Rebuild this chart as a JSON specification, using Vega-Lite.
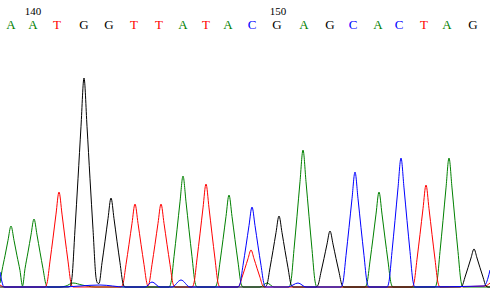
{
  "$schema": "https://vega.github.io/schema/vega-lite/v6.json",
  "width": 490, "height": 293,
  "autosize": {"type": "fit", "contains": "padding"},
  "padding": 0,
  "background": "white",
  "config": {"view": {"stroke": null}},
  "datasets": {
    "tr": [
      {"b":"A","x":0,"y":5},{"b":"A","x":2,"y":17.4},{"b":"A","x":5,"y":32.2},{"b":"A","x":8,"y":47.7},{"b":"A","x":11,"y":62},{"b":"A","x":14,"y":47.7},{"b":"A","x":17,"y":32.2},{"b":"A","x":20,"y":17.4},{"b":"A","x":22.5,"y":2},{"b":"A","x":25,"y":19.3},{"b":"A","x":28,"y":35.9},{"b":"A","x":31,"y":53.1},{"b":"A","x":34,"y":69},{"b":"A","x":37,"y":53.1},{"b":"A","x":40,"y":35.9},{"b":"A","x":43,"y":19.3},{"b":"A","x":46,"y":3.5},{"b":"A","x":48,"y":1},{"b":"A","x":60,"y":1},{"b":"A","x":66,"y":2},{"b":"A","x":73,"y":5},{"b":"A","x":82,"y":3},{"b":"A","x":95,"y":1},{"b":"A","x":150,"y":1},{"b":"A","x":169,"y":1},{"b":"A","x":171,"y":5.6},{"b":"A","x":174,"y":31.4},{"b":"A","x":177,"y":58.2},{"b":"A","x":180,"y":86.2},{"b":"A","x":183,"y":112},{"b":"A","x":186,"y":86.2},{"b":"A","x":189,"y":58.2},{"b":"A","x":192,"y":31.4},{"b":"A","x":195,"y":5.6},{"b":"A","x":197,"y":1},{"b":"A","x":215,"y":1},{"b":"A","x":217,"y":4.7},{"b":"A","x":220,"y":26},{"b":"A","x":223,"y":48.4},{"b":"A","x":226,"y":71.6},{"b":"A","x":229,"y":93},{"b":"A","x":232,"y":71.6},{"b":"A","x":235,"y":48.4},{"b":"A","x":238,"y":26},{"b":"A","x":241,"y":4.7},{"b":"A","x":243,"y":1},{"b":"A","x":260,"y":1},{"b":"A","x":267,"y":5},{"b":"A","x":274,"y":1},{"b":"A","x":289,"y":1},{"b":"A","x":291,"y":6.9},{"b":"A","x":294,"y":38.6},{"b":"A","x":297,"y":71.8},{"b":"A","x":300,"y":106.3},{"b":"A","x":303,"y":138},{"b":"A","x":306,"y":106.3},{"b":"A","x":309,"y":71.8},{"b":"A","x":312,"y":38.6},{"b":"A","x":315,"y":6.9},{"b":"A","x":317,"y":1},{"b":"A","x":365,"y":1},{"b":"A","x":367,"y":4.8},{"b":"A","x":370,"y":26.9},{"b":"A","x":373,"y":49.9},{"b":"A","x":376,"y":73.9},{"b":"A","x":379,"y":96},{"b":"A","x":382,"y":73.9},{"b":"A","x":385,"y":49.9},{"b":"A","x":388,"y":26.9},{"b":"A","x":391,"y":4.8},{"b":"A","x":393,"y":1},{"b":"A","x":435,"y":1},{"b":"A","x":437,"y":6.5},{"b":"A","x":440,"y":36.4},{"b":"A","x":443,"y":67.6},{"b":"A","x":446,"y":100.1},{"b":"A","x":449,"y":130},{"b":"A","x":452,"y":100.1},{"b":"A","x":455,"y":67.6},{"b":"A","x":458,"y":36.4},{"b":"A","x":461,"y":6.5},{"b":"A","x":463,"y":1},{"b":"A","x":490,"y":1},

      {"b":"T","x":0,"y":3},{"b":"T","x":5,"y":1},{"b":"T","x":45,"y":1},{"b":"T","x":47,"y":4.8},{"b":"T","x":50,"y":26.9},{"b":"T","x":53,"y":49.9},{"b":"T","x":56,"y":73.9},{"b":"T","x":59,"y":96},{"b":"T","x":62,"y":73.9},{"b":"T","x":65,"y":49.9},{"b":"T","x":68,"y":26.9},{"b":"T","x":71,"y":4.8},{"b":"T","x":73,"y":1},{"b":"T","x":121,"y":1},{"b":"T","x":123,"y":4.2},{"b":"T","x":126,"y":23.5},{"b":"T","x":129,"y":43.7},{"b":"T","x":132,"y":64.7},{"b":"T","x":135,"y":84},{"b":"T","x":138,"y":64.7},{"b":"T","x":141,"y":43.7},{"b":"T","x":144,"y":23.5},{"b":"T","x":147,"y":4.2},{"b":"T","x":148,"y":2},{"b":"T","x":149,"y":4.2},{"b":"T","x":152,"y":23.5},{"b":"T","x":155,"y":43.7},{"b":"T","x":158,"y":64.7},{"b":"T","x":161,"y":84},{"b":"T","x":164,"y":64.7},{"b":"T","x":167,"y":43.7},{"b":"T","x":170,"y":23.5},{"b":"T","x":173,"y":4.2},{"b":"T","x":175,"y":1},{"b":"T","x":192,"y":1},{"b":"T","x":194,"y":5.2},{"b":"T","x":197,"y":29.1},{"b":"T","x":200,"y":54.1},{"b":"T","x":203,"y":80.1},{"b":"T","x":206,"y":104},{"b":"T","x":209,"y":80.1},{"b":"T","x":212,"y":54.1},{"b":"T","x":215,"y":29.1},{"b":"T","x":218,"y":5.2},{"b":"T","x":220,"y":1},{"b":"T","x":237,"y":1},{"b":"T","x":239,"y":1.9},{"b":"T","x":242,"y":10.6},{"b":"T","x":245,"y":19.8},{"b":"T","x":248,"y":29.3},{"b":"T","x":251,"y":38},{"b":"T","x":254,"y":29.3},{"b":"T","x":257,"y":19.8},{"b":"T","x":260,"y":10.6},{"b":"T","x":263,"y":1.9},{"b":"T","x":265,"y":1},{"b":"T","x":412,"y":1},{"b":"T","x":414,"y":5.2},{"b":"T","x":417,"y":28.8},{"b":"T","x":420,"y":53.6},{"b":"T","x":423,"y":79.3},{"b":"T","x":426,"y":103},{"b":"T","x":429,"y":79.3},{"b":"T","x":432,"y":53.6},{"b":"T","x":435,"y":28.8},{"b":"T","x":438,"y":5.2},{"b":"T","x":440,"y":1},{"b":"T","x":485,"y":2},{"b":"T","x":490,"y":5},

      {"b":"G","x":0,"y":1},{"b":"G","x":68,"y":1},{"b":"G","x":70,"y":1.5},{"b":"G","x":72,"y":10.5},{"b":"G","x":75,"y":58.8},{"b":"G","x":78,"y":109.2},{"b":"G","x":81,"y":161.7},{"b":"G","x":84,"y":210},{"b":"G","x":87,"y":161.7},{"b":"G","x":90,"y":109.2},{"b":"G","x":93,"y":58.8},{"b":"G","x":96,"y":10.5},{"b":"G","x":97.5,"y":5},{"b":"G","x":99,"y":4.5},{"b":"G","x":102,"y":25.2},{"b":"G","x":105,"y":46.8},{"b":"G","x":108,"y":69.3},{"b":"G","x":111,"y":90},{"b":"G","x":114,"y":69.3},{"b":"G","x":117,"y":46.8},{"b":"G","x":120,"y":25.2},{"b":"G","x":123,"y":4.5},{"b":"G","x":125,"y":1},{"b":"G","x":265,"y":1},{"b":"G","x":267,"y":3.6},{"b":"G","x":270,"y":20.2},{"b":"G","x":273,"y":37.4},{"b":"G","x":276,"y":55.4},{"b":"G","x":279,"y":72},{"b":"G","x":282,"y":55.4},{"b":"G","x":285,"y":37.4},{"b":"G","x":288,"y":20.2},{"b":"G","x":291,"y":3.6},{"b":"G","x":293,"y":1},{"b":"G","x":316,"y":1},{"b":"G","x":318,"y":2.9},{"b":"G","x":321,"y":16},{"b":"G","x":324,"y":29.6},{"b":"G","x":327,"y":43.9},{"b":"G","x":330,"y":57},{"b":"G","x":333,"y":43.9},{"b":"G","x":336,"y":29.6},{"b":"G","x":339,"y":16},{"b":"G","x":342,"y":2.9},{"b":"G","x":344,"y":1},{"b":"G","x":460,"y":1},{"b":"G","x":462,"y":2},{"b":"G","x":465,"y":10.9},{"b":"G","x":468,"y":20.3},{"b":"G","x":471,"y":30},{"b":"G","x":474,"y":39},{"b":"G","x":477,"y":30},{"b":"G","x":480,"y":20.3},{"b":"G","x":483,"y":10.9},{"b":"G","x":486,"y":2},{"b":"G","x":488,"y":1},{"b":"G","x":490,"y":1},

      {"b":"C","x":0,"y":16},{"b":"C","x":2,"y":6},{"b":"C","x":4,"y":1},{"b":"C","x":60,"y":1},{"b":"C","x":100,"y":3},{"b":"C","x":125,"y":1},{"b":"C","x":145,"y":1},{"b":"C","x":152,"y":6},{"b":"C","x":160,"y":1},{"b":"C","x":172,"y":1},{"b":"C","x":181,"y":8},{"b":"C","x":190,"y":1},{"b":"C","x":238,"y":1},{"b":"C","x":240,"y":4.1},{"b":"C","x":243,"y":22.7},{"b":"C","x":246,"y":42.1},{"b":"C","x":249,"y":62.4},{"b":"C","x":252,"y":81},{"b":"C","x":255,"y":62.4},{"b":"C","x":258,"y":42.1},{"b":"C","x":261,"y":22.7},{"b":"C","x":264,"y":4.1},{"b":"C","x":266,"y":1},{"b":"C","x":288,"y":1},{"b":"C","x":298,"y":5},{"b":"C","x":306,"y":1},{"b":"C","x":341,"y":1},{"b":"C","x":343,"y":5.8},{"b":"C","x":346,"y":32.5},{"b":"C","x":349,"y":60.3},{"b":"C","x":352,"y":89.3},{"b":"C","x":355,"y":116},{"b":"C","x":358,"y":89.3},{"b":"C","x":361,"y":60.3},{"b":"C","x":364,"y":32.5},{"b":"C","x":367,"y":5.8},{"b":"C","x":369,"y":1},{"b":"C","x":387,"y":1},{"b":"C","x":389,"y":6.5},{"b":"C","x":392,"y":36.4},{"b":"C","x":395,"y":67.6},{"b":"C","x":398,"y":100.1},{"b":"C","x":401,"y":130},{"b":"C","x":404,"y":100.1},{"b":"C","x":407,"y":67.6},{"b":"C","x":410,"y":36.4},{"b":"C","x":413,"y":6.5},{"b":"C","x":415,"y":1},{"b":"C","x":484,"y":2},{"b":"C","x":488,"y":10},{"b":"C","x":490,"y":18}
    ],
    "lb": [
      {"b":"A","x":11},{"b":"A","x":33},{"b":"T","x":57},{"b":"G","x":84},{"b":"G","x":109},{"b":"T","x":134},{"b":"T","x":159},{"b":"A","x":183},{"b":"T","x":206},{"b":"A","x":228},
      {"b":"C","x":252},{"b":"G","x":277},{"b":"A","x":304},{"b":"G","x":330},{"b":"C","x":353},{"b":"A","x":378},{"b":"C","x":399},{"b":"T","x":424},{"b":"A","x":447},{"b":"G","x":473}
    ],
    "num": [{"x":33,"t":"140"},{"x":278,"t":"150"}]
  },
  "layer": [
    {
      "data": {"name": "tr"},
      "mark": {"type": "line", "strokeWidth": 1, "interpolate": "monotone", "clip": true},
      "encoding": {
        "x": {"field": "x", "type": "quantitative", "scale": {"domain": [0, 490], "nice": false, "zero": false}, "axis": null},
        "y": {"field": "y", "type": "quantitative", "scale": {"domain": [-5, 288], "nice": false, "zero": false}, "axis": null},
        "color": {"field": "b", "type": "nominal", "scale": {"domain": ["A","C","G","T"], "range": ["#008000","#0000ff","#000000","#ff0000"]}, "legend": null},
        "detail": {"field": "b"}
      }
    },
    {
      "data": {"name": "lb"},
      "mark": {"type": "text", "font": "Liberation Serif", "fontSize": 13, "baseline": "middle", "align": "center"},
      "encoding": {
        "x": {"field": "x", "type": "quantitative"},
        "y": {"datum": 263},
        "text": {"field": "b"},
        "color": {"field": "b", "type": "nominal", "legend": null}
      }
    },
    {
      "data": {"name": "num"},
      "mark": {"type": "text", "font": "Liberation Serif", "fontSize": 11, "baseline": "middle", "align": "center", "color": "black"},
      "encoding": {
        "x": {"field": "x", "type": "quantitative"},
        "y": {"datum": 276},
        "text": {"field": "t"}
      }
    }
  ]
}
